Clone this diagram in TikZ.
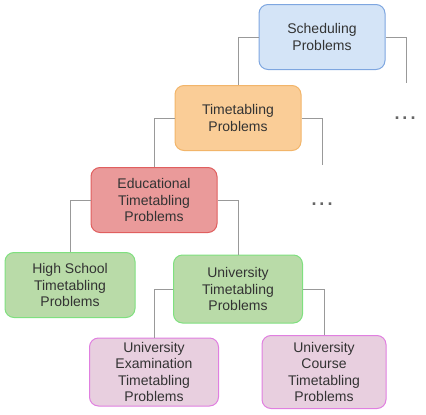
\documentclass[tikz,border=0pt]{standalone}
\usepackage{fontspec}
\setmainfont{Liberation Sans}
\definecolor{schedfill}{HTML}{D4E4F7}
\definecolor{schedline}{HTML}{7EA6E0}
\definecolor{ttfill}{HTML}{FACD97}
\definecolor{ttline}{HTML}{F2B56A}
\definecolor{edufill}{HTML}{EA9A9A}
\definecolor{eduline}{HTML}{E05F5F}
\definecolor{unifill}{HTML}{B9DBA8}
\definecolor{uniline}{HTML}{7FE07F}
\definecolor{leaffill}{HTML}{E8CFDF}
\definecolor{leafline}{HTML}{E07FE0}
\definecolor{txt}{HTML}{333333}
\begin{document}
\begin{tikzpicture}[x=1pt, y=-1pt,
    font=\fontsize{14}{16.5}\selectfont, text=txt,
    probbox/.style={draw, rounded corners=9pt, line width=1pt, align=center,
        minimum width=126pt, minimum height=65pt, inner sep=1pt},
    more/.style={text=black!60, font=\fontsize{18}{18}\selectfont\bfseries},
    link/.style={draw=black!40, line width=1pt}]
    \useasboundingbox (0,0) rectangle (426,415);

    \node[probbox, fill=schedfill, draw=schedline] (sched) at (322, 37) {Scheduling\\Problems};
    \node[probbox, fill=ttfill, draw=ttline] (tt) at (238, 118) {Timetabling\\Problems};
    \node[probbox, fill=edufill, draw=eduline] (edu) at (154, 200) {Educational\\Timetabling\\Problems};
    \node[probbox, fill=unifill, draw=uniline, minimum width=130pt] (hs) at (70, 285) {High School\\Timetabling\\Problems};
    \node[probbox, fill=unifill, draw=uniline, minimum width=129pt, minimum height=68pt] (ut) at (238, 289) {University\\Timetabling\\Problems};
    \node[probbox, fill=leaffill, draw=leafline, minimum width=129pt, minimum height=68pt] (ue) at (154, 372) {University\\Examination\\Timetabling\\Problems};
    \node[probbox, fill=leaffill, draw=leafline, minimum width=124pt, minimum height=73pt] (uc) at (324, 372) {University\\Course\\Timetabling\\Problems};

    \node[more] (more1) at (405, 118) {.\,.\,.};
    \node[more] (more2) at (322, 204) {.\,.\,.};
    \coordinate (end1) at (406, 83);
    \coordinate (end2) at (322, 165);

    % tree links
    \path[link] (sched.west) -| (tt.north);
    \path[link] (sched.east) -| (end1);
    \path[link] (tt.west) -| (edu.north);
    \path[link] (tt.east) -| (end2);
    \path[link] (edu.west) -| (hs.north);
    \path[link] (edu.east) -| (ut.north);
    \path[link] (ut.west) -| (ue.north);
    \path[link] (ut.east) -| (uc.north);
\end{tikzpicture}
\end{document}
